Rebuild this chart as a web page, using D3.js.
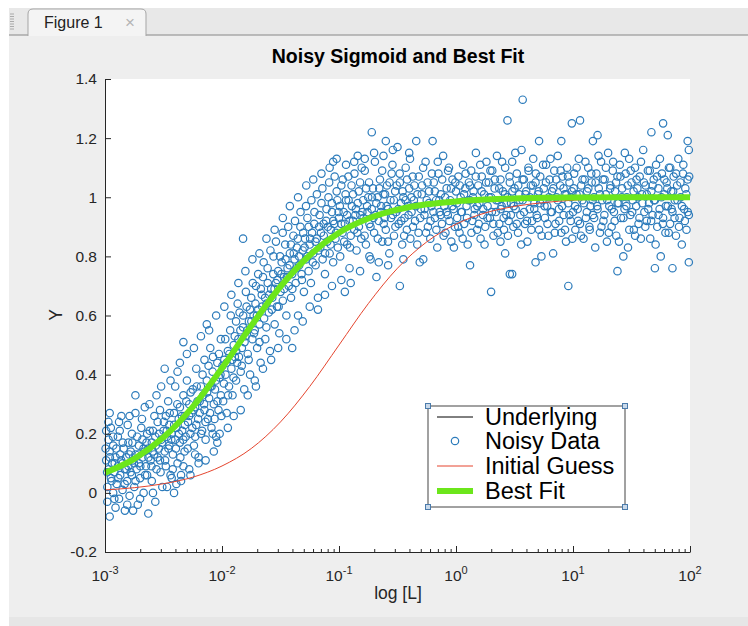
<!DOCTYPE html>
<html><head><meta charset="utf-8">
<script src="https://cdn.jsdelivr.net/npm/d3@7"></script>
<style>
html,body{margin:0;padding:0;background:#fff;}
svg{display:block;font-family:Helvetica,"Liberation Sans",Arial,sans-serif;}
</style></head><body>
<script>
// ---- data ----
const xTickValues = [1e-3, 1e-2, 1e-1, 1e0, 1e1, 1e2];
const xTickExponents = ["-3", "-2", "-1", "0", "1", "2"];
const yTickValues = [-0.2, 0, 0.2, 0.4, 0.6, 0.8, 1, 1.2, 1.4];
const yTickLabels = ["-0.2", "0", "0.2", "0.4", "0.6", "0.8", "1", "1.2", "1.4"];
const legendLabels = ["Underlying", "Noisy Data", "Initial Guess", "Best Fit"];

// curves: log10(L) and Y
const curveLogL = [-3, -2.75, -2.5, -2.25, -2, -1.75, -1.5, -1.25, -1, -0.75, -0.5, -0.25, 0, 0.25, 0.5, 0.75, 1, 1.5, 2];
const underlyingY = [0.068, 0.115, 0.188, 0.291, 0.422, 0.565, 0.698, 0.804, 0.880, 0.928, 0.958, 0.976, 0.986, 0.992, 0.996, 0.998, 0.999, 1.0, 1.0];
const initialGuessY = [0.010, 0.0175, 0.031, 0.053, 0.091, 0.150, 0.240, 0.360, 0.500, 0.640, 0.760, 0.849, 0.909, 0.947, 0.969, 0.982, 0.990, 0.997, 0.999];
const bestFitY = [0.068, 0.115, 0.188, 0.291, 0.422, 0.565, 0.698, 0.804, 0.880, 0.928, 0.958, 0.976, 0.986, 0.992, 0.996, 0.998, 0.999, 1.0, 1.0];

// noisy data: [log10(L), Y]
const noisyDataA = [
[-2.99,0.21],[-2.99,0.11],[-2.98,0.02],[-2.98,-0.03],[-2.97,0.18],[-2.97,0.08],[-2.96,0.14],[-2.96,-0.08],[-2.95,0.05],[-2.95,0.22],
[-2.94,0.10],[-2.93,0.00],[-2.93,0.16],[-2.92,0.07],[-2.91,-0.05],[-2.91,0.12],[-2.90,0.03],[-2.89,0.19],[-2.89,0.09],[-2.88,-0.02],
[-2.87,0.13],[-2.87,0.06],[-2.86,0.26],[-2.85,0.01],[-2.85,0.10],[-2.84,0.15],[-2.83,-0.06],[-2.83,0.08],[-2.82,0.12],[-2.81,0.04],
[-2.80,0.17],[-2.80,0.09],[-2.79,-0.01],[-2.78,0.14],[-2.77,0.20],[-2.77,0.06],[-2.76,0.11],[-2.76,-0.06],[-2.75,0.02],[-2.74,0.27],
[-2.74,0.13],[-2.74,0.33],[-2.73,0.08],[-2.72,-0.04],[-2.71,0.16],[-2.71,0.10],[-2.70,0.05],[-2.69,0.22],[-2.68,0.12],[-2.68,0.18],
[-2.67,0.00],[-2.66,0.14],[-2.65,0.09],[-2.64,0.20],[-2.64,0.06],[-2.63,0.15],[-2.63,-0.07],[-2.62,0.30],[-2.61,0.11],[-2.60,0.17],
[-2.60,0.04],[-2.59,0.21],[-2.58,0.13],[-2.57,-0.03],[-2.57,0.19],[-2.56,0.08],[-2.55,0.24],[-2.54,0.15],[-2.53,0.11],[-2.53,0.28],
[-2.52,0.18],[-2.51,0.02],[-2.50,0.21],[-2.49,0.14],[-2.49,0.42],[-2.48,0.26],[-2.48,0.09],[-2.47,0.19],[-2.46,0.31],[-2.45,0.16],
[-2.45,0.23],[-2.44,0.06],[-2.43,0.20],[-2.43,0.05],[-2.42,0.13],[-2.41,0.27],[-2.40,0.36],[-2.40,0.18],[-2.39,0.22],[-2.39,0.03],
[-2.38,0.10],[-2.37,0.25],[-2.36,0.29],[-2.36,0.17],[-2.36,0.44],[-2.35,0.04],[-2.34,0.21],[-2.33,0.33],[-2.33,0.51],[-2.33,0.09],
[-2.32,0.26],[-2.32,0.14],[-2.31,0.19],[-2.30,0.38],[-2.29,0.24],[-2.28,0.30],[-2.28,0.08],[-2.27,0.20],[-2.26,0.27],[-2.25,0.35],
[-2.24,0.16],[-2.23,0.29],[-2.23,0.13],[-2.22,0.42],[-2.22,0.23],[-2.21,0.31],[-2.20,0.12],[-2.19,0.27],[-2.18,0.36],[-2.17,0.21],
[-2.16,0.33],[-2.15,0.45],[-2.15,0.28],[-2.14,0.18],[-2.13,0.38],[-2.13,0.57],[-2.12,0.25],[-2.11,0.32],[-2.10,0.49],[-2.10,0.36],
[-2.09,0.22],[-2.08,0.41],[-2.08,0.20],[-2.07,0.30],[-2.06,0.35],[-2.05,0.19],[-2.04,0.44],[-2.04,0.17],[-2.03,0.28],[-2.02,0.39],
[-2.01,0.52],[-2.01,0.33],
[-1.99,0.31],[-1.98,0.45],[-1.97,0.40],[-1.96,0.27],[-1.95,0.48],[-1.94,0.36],[-1.93,0.55],[-1.92,0.42],[-1.91,0.33],[-1.90,0.50],
[-1.89,0.46],[-1.88,0.58],[-1.88,0.38],[-1.87,0.44],[-1.86,0.52],[-1.85,0.61],[-1.84,0.41],[-1.83,0.49],[-1.82,0.86],[-1.82,0.56],
[-1.81,0.35],[-1.80,0.53],[-1.79,0.63],[-1.78,0.47],[-1.77,0.58],[-1.76,0.40],[-1.75,0.66],[-1.74,0.52],[-1.73,0.60],[-1.72,0.38],
[-1.72,0.55],[-1.71,0.70],[-1.70,0.49],[-1.69,0.62],[-1.68,0.57],[-1.67,0.44],[-1.66,0.67],[-1.65,0.73],[-1.64,0.59],[-1.63,0.52],
[-1.62,0.64],[-1.61,0.76],[-1.60,0.61],[-1.59,0.48],[-1.58,0.69],[-1.57,0.66],[-1.56,0.80],[-1.55,0.57],[-1.54,0.71],[-1.53,0.63],
[-1.52,0.75],[-1.51,0.54],[-1.50,0.68],[-1.49,0.78],[-1.48,0.65],[-1.47,0.73],[-1.46,0.84],[-1.45,0.60],[-1.44,0.76],[-1.43,0.70],
[-1.42,0.81],[-1.41,0.66],[-1.40,0.49],[-1.40,0.74],[-1.39,0.87],[-1.38,0.79],[-1.37,0.71],[-1.36,0.83],[-1.35,0.60],[-1.34,0.77],
[-1.33,0.90],[-1.32,0.74],[-1.31,0.82],[-1.30,0.68],[-1.29,0.86],[-1.28,0.79],[-1.27,0.93],[-1.26,0.75],[-1.25,0.84],[-1.24,0.71],
[-1.23,0.88],[-1.22,0.81],[-1.21,0.95],[-1.20,0.77],[-1.19,0.86],[-1.18,0.62],[-1.17,0.90],[-1.16,0.83],[-1.15,0.98],[-1.14,0.79],
[-1.13,0.87],[-1.12,0.74],[-1.11,0.92],[-1.10,0.85],[-1.09,1.00],[-1.08,0.81],[-1.07,0.89],[-1.06,0.95],[-1.05,1.12],[-1.05,0.78],
[-1.04,0.91],[-1.03,0.86],[-1.02,1.02],[-1.01,0.83],[-1.00,0.93],
[-0.99,0.80],[-0.98,1.04],[-0.97,0.88],[-0.96,0.95],[-0.95,0.68],[-0.95,0.91],[-0.94,0.99],[-0.93,0.84],[-0.92,1.07],[-0.91,0.92],
[-0.90,0.71],[-0.90,0.87],[-0.89,0.97],[-0.88,1.01],[-0.87,0.89],[-0.86,0.94],[-0.85,0.82],[-0.84,1.14],[-0.84,0.98],[-0.83,0.90],
[-0.82,1.05],[-0.81,0.86],[-0.80,0.95],[-0.79,0.93],[-0.78,1.09],[-0.77,0.84],[-0.76,0.97],[-0.75,1.00],[-0.74,0.91],[-0.73,0.79],
[-0.72,1.22],[-0.72,0.96],[-0.71,1.03],[-0.70,0.88],[-0.69,0.94],[-0.68,0.73],[-0.67,1.00],[-0.66,0.92],[-0.65,1.06],[-0.64,0.97],
[-0.63,0.85],[-0.62,1.01],[-0.61,0.93],[-0.60,1.19],[-0.60,0.89],[-0.59,1.04],[-0.58,0.96],[-0.57,0.81],[-0.56,0.99],[-0.55,1.08],
[-0.54,0.94],[-0.53,0.87],[-0.52,1.02],[-0.51,0.95],[-0.50,1.17],[-0.49,0.91],[-0.48,0.70],[-0.48,1.05],[-0.47,0.98],[-0.46,0.84],
[-0.45,1.00],[-0.44,0.93],[-0.43,1.10],[-0.42,0.89],[-0.41,0.97],[-0.40,1.03],[-0.39,0.86],[-0.38,0.95],[-0.37,1.07],[-0.36,0.99],
[-0.35,0.92],[-0.34,1.19],[-0.33,1.01],[-0.32,0.88],[-0.31,0.78],[-0.30,0.96],[-0.29,1.04],[-0.28,0.79],[-0.27,0.94],[-0.26,1.12],
[-0.25,0.99],[-0.24,0.90],[-0.23,1.02],[-0.22,0.86],[-0.21,0.97],[-0.20,1.19],[-0.19,1.05],[-0.18,0.93],[-0.17,0.99],[-0.16,0.83],
[-0.15,1.08],[-0.14,0.95],[-0.13,1.01],[-0.12,0.91],[-0.11,1.14],[-0.10,0.97],[-0.09,0.88],[-0.08,1.03],[-0.07,0.94],[-0.06,1.10],
[-0.05,0.99],[-0.04,0.85],[-0.03,1.06],[-0.02,0.96],[-0.01,0.90],[0.00,1.02],
[0.01,0.93],[0.02,1.07],[0.03,0.88],[0.04,1.00],[0.05,0.95],[0.06,1.11],[0.07,0.91],[0.08,1.03],[0.09,0.97],[0.10,0.84],
[0.11,1.05],[0.12,0.77],[0.12,0.99],[0.13,1.09],[0.14,0.92],[0.15,1.02],[0.16,0.96],[0.17,1.15],[0.18,0.89],[0.19,1.04],
[0.20,0.98],[0.21,0.86],[0.22,1.07],[0.23,0.94],[0.24,1.01],[0.25,0.90],[0.26,1.12],[0.27,0.97],[0.28,1.05],[0.29,0.93],
[0.30,0.68],[0.30,1.00],[0.31,1.09],[0.32,0.87],[0.33,1.03],[0.34,0.95],[0.35,1.14],[0.36,0.99],[0.37,0.91],[0.38,0.85],
[0.38,1.06],[0.39,0.97],[0.40,1.02],[0.41,0.89],[0.42,0.81],[0.42,1.10],[0.43,0.94],[0.44,1.26],[0.44,1.00],[0.45,0.92],
[0.46,0.74],[0.46,1.05],[0.47,0.98],[0.48,0.74],[0.48,1.12],[0.49,0.90],[0.50,1.03],[0.51,0.96],[0.52,1.08],[0.53,0.88],
[0.54,1.01],[0.55,0.94],[0.56,1.16],[0.57,1.33],[0.57,0.99],[0.58,1.06],[0.59,0.91],[0.60,1.02],[0.61,0.85],[0.62,1.09],
[0.63,0.96],[0.64,1.04],[0.65,0.92],[0.66,1.13],[0.67,0.98],[0.68,0.78],[0.68,1.05],[0.69,0.94],[0.70,1.01],[0.71,1.19],
[0.71,0.89],[0.72,1.07],[0.73,0.80],[0.74,0.99],[0.75,1.03],[0.76,0.93],[0.77,1.11],[0.78,0.97],[0.79,0.87],[0.80,1.06],
[0.81,0.95],[0.82,1.02],[0.83,0.81],[0.84,1.09],[0.85,0.91],[0.86,1.00],[0.87,1.14],[0.88,0.96],[0.89,1.04],[0.90,1.19],
[0.90,0.88],[0.91,1.07],[0.92,0.94],[0.93,1.01],[0.94,0.85],[0.95,1.10],[0.96,0.70],[0.96,0.98],[0.97,1.05],[0.98,0.92],
[0.99,1.25],[0.99,1.02],
[1.00,0.95],[1.01,1.08],[1.02,0.89],[1.03,1.01],[1.04,0.96],[1.05,1.13],[1.06,1.26],[1.06,0.91],[1.07,1.04],[1.08,0.99],
[1.09,0.86],[1.10,1.06],[1.11,0.93],[1.12,1.02],[1.13,1.10],[1.14,0.90],[1.15,0.97],[1.16,1.05],[1.17,1.19],[1.17,0.94],
[1.18,1.00],[1.19,0.83],[1.20,1.08],[1.21,1.21],[1.21,0.96],[1.22,1.03],[1.23,0.88],[1.24,1.12],[1.25,0.99],[1.26,0.92],
[1.27,1.06],[1.28,1.01],[1.29,0.85],[1.30,1.15],[1.31,0.97],[1.32,1.04],[1.33,0.90],[1.34,1.09],[1.35,0.95],[1.36,1.02],
[1.37,0.87],[1.38,0.75],[1.38,1.07],[1.39,0.98],[1.40,1.11],[1.41,0.93],[1.42,1.03],[1.43,0.80],[1.44,0.96],[1.45,1.08],
[1.46,1.00],[1.47,0.83],[1.48,1.13],[1.49,0.94],[1.50,1.05],[1.51,0.99],[1.52,0.89],[1.53,1.10],[1.54,0.97],[1.55,1.03],
[1.56,0.91],[1.57,1.07],[1.58,0.86],[1.59,1.01],[1.60,1.16],[1.61,0.95],[1.62,1.04],[1.63,0.92],[1.64,1.09],[1.65,0.98],
[1.66,0.86],[1.67,1.22],[1.67,1.02],[1.68,0.94],[1.69,1.06],[1.70,0.76],[1.70,0.99],[1.71,1.11],[1.72,0.90],[1.73,1.03],
[1.74,0.96],[1.75,0.80],[1.76,1.08],[1.77,1.25],[1.77,0.93],[1.78,1.01],[1.79,0.88],[1.80,1.05],[1.81,1.21],[1.81,0.97],
[1.82,1.10],[1.83,0.91],[1.84,1.02],[1.85,0.76],[1.85,0.95],[1.86,1.07],[1.87,0.99],[1.88,0.87],[1.89,1.04],[1.90,1.13],
[1.91,0.93],[1.92,1.00],[1.93,0.84],[1.94,1.08],[1.95,0.96],[1.96,1.03],[1.97,0.89],[1.98,1.19],[1.98,1.06],[1.99,0.78],
[1.99,1.16],[1.99,0.94]
];
const noisyDataB = [
[-2.995,0.15],[-2.982,0.07],[-2.971,0.24],[-2.958,0.12],[-2.944,0.04],[-2.931,0.19],[-2.917,0.10],[-2.903,0.15],[-2.886,0.05],[-2.874,0.21],
[-2.861,0.11],[-2.848,0.17],[-2.832,0.03],[-2.817,0.08],[-2.806,0.23],[-2.793,0.13],[-2.781,0.07],[-2.766,0.17],[-2.752,0.10],[-2.739,0.04],
[-2.725,0.19],[-2.713,0.13],[-2.698,0.09],[-2.684,0.25],[-2.671,0.15],[-2.657,0.06],[-2.645,0.17],[-2.629,0.12],[-2.618,0.21],[-2.603,0.09],
[-2.592,0.14],[-2.578,0.26],[-2.566,0.16],[-2.551,0.12],[-2.538,0.20],[-2.525,0.07],[-2.512,0.17],[-2.497,0.24],[-2.486,0.11],[-2.472,0.21],
[-2.458,0.15],[-2.447,0.27],[-2.433,0.18],[-2.421,0.08],[-2.409,0.23],[-2.394,0.15],[-2.382,0.30],[-2.369,0.20],[-2.356,0.12],[-2.343,0.26],
[-2.331,0.18],[-2.318,0.23],[-2.305,0.31],[-2.293,0.15],[-2.281,0.26],[-2.268,0.34],[-2.254,0.22],[-2.242,0.28],[-2.229,0.19],[-2.216,0.36],
[-2.204,0.25],[-2.191,0.31],[-2.179,0.20],[-2.166,0.40],[-2.153,0.30],[-2.141,0.24],[-2.127,0.34],[-2.115,0.43],[-2.102,0.27],[-2.089,0.36],
[-2.077,0.46],[-2.064,0.25],[-2.052,0.38],[-2.039,0.31],[-2.026,0.47],[-2.013,0.40],[-2.005,0.26],
[-1.996,0.43],[-1.984,0.37],[-1.972,0.52],[-1.961,0.44],[-1.948,0.33],[-1.937,0.47],[-1.925,0.60],[-1.913,0.45],[-1.902,0.39],[-1.891,0.53],
[-1.878,0.48],[-1.866,0.64],[-1.855,0.46],[-1.843,0.55],[-1.831,0.43],[-1.819,0.60],[-1.807,0.51],[-1.796,0.68],[-1.784,0.55],[-1.772,0.45],
[-1.761,0.62],[-1.749,0.58],[-1.737,0.71],[-1.726,0.54],[-1.714,0.64],[-1.702,0.60],[-1.691,0.74],[-1.679,0.51],[-1.668,0.69],[-1.656,0.63],
[-1.644,0.78],[-1.632,0.66],[-1.621,0.56],[-1.609,0.71],[-1.597,0.67],[-1.586,0.82],[-1.574,0.62],[-1.562,0.74],[-1.551,0.69],[-1.539,0.85],
[-1.527,0.72],[-1.516,0.63],[-1.504,0.80],[-1.492,0.74],[-1.481,0.88],[-1.469,0.69],[-1.457,0.79],[-1.446,0.73],[-1.434,0.90],[-1.422,0.77],
[-1.411,0.84],[-1.399,0.69],[-1.387,0.81],[-1.376,0.92],[-1.364,0.76],[-1.352,0.86],[-1.341,0.80],[-1.329,0.95],[-1.317,0.72],[-1.306,0.88],
[-1.294,0.83],[-1.282,0.97],[-1.271,0.80],[-1.259,0.90],[-1.247,0.86],[-1.236,0.99],[-1.224,0.78],[-1.212,0.91],[-1.201,0.85],[-1.189,1.01],
[-1.177,0.82],[-1.166,0.94],[-1.154,0.88],[-1.142,1.03],[-1.131,0.91],[-1.119,0.81],[-1.107,0.96],[-1.096,0.90],[-1.084,1.05],[-1.072,0.84],
[-1.061,0.98],[-1.049,0.92],[-1.037,1.07],[-1.026,0.88],[-1.014,0.99],[-1.004,0.95],
[-0.993,0.97],[-0.981,0.91],[-0.968,1.06],[-0.956,0.85],[-0.944,1.01],[-0.931,0.94],[-0.918,0.99],[-0.906,0.83],[-0.893,1.04],[-0.881,0.92],
[-0.868,1.08],[-0.856,0.96],[-0.843,0.88],[-0.831,1.02],[-0.818,0.94],[-0.806,1.10],[-0.793,0.99],[-0.781,0.87],[-0.768,1.03],[-0.756,0.95],
[-0.743,1.05],[-0.731,0.90],[-0.718,1.00],[-0.706,0.93],[-0.693,1.12],[-0.681,0.98],[-0.668,0.86],[-0.656,1.03],[-0.643,0.95],[-0.631,1.09],
[-0.618,0.91],[-0.606,1.01],[-0.593,0.97],[-0.581,0.85],[-0.568,1.05],[-0.556,0.93],[-0.543,1.11],[-0.531,0.99],[-0.518,0.90],[-0.506,1.04],
[-0.493,0.96],[-0.481,1.08],[-0.468,0.92],[-0.456,1.02],[-0.443,0.87],[-0.431,0.99],[-0.418,1.06],[-0.406,0.94],[-0.393,1.13],[-0.381,1.00],
[-0.368,0.90],[-0.356,1.04],[-0.343,0.97],[-0.331,0.84],[-0.318,1.07],[-0.306,0.93],[-0.293,1.01],[-0.281,1.10],[-0.268,0.96],[-0.256,0.88],
[-0.243,1.05],[-0.231,0.98],[-0.218,0.92],[-0.206,1.08],[-0.193,0.95],[-0.181,1.02],[-0.168,0.89],[-0.156,1.12],[-0.143,0.99],[-0.131,0.94],
[-0.118,1.06],[-0.106,0.87],[-0.093,1.00],[-0.081,0.95],[-0.068,1.09],[-0.056,0.92],[-0.043,1.03],[-0.031,0.97],[-0.018,0.83],[-0.006,1.05],
[0.007,0.98],[0.019,0.90],[0.032,1.04],[0.044,0.95],[0.057,0.86],[0.069,1.01],[0.082,1.08],[0.094,0.93],[0.107,0.99],[0.119,1.04],
[0.132,0.88],[0.144,1.00],[0.157,0.94],[0.169,1.07],[0.182,0.97],[0.194,0.91],[0.207,1.11],[0.219,1.02],[0.232,0.96],[0.244,0.84],
[0.257,1.05],[0.269,0.93],[0.282,1.00],[0.294,1.09],[0.307,0.95],[0.319,0.91],[0.332,1.06],[0.344,0.99],[0.357,0.88],[0.369,1.03],
[0.382,0.96],[0.394,1.12],[0.407,0.93],[0.419,1.01],[0.432,0.98],[0.444,0.87],[0.457,1.07],[0.469,0.94],[0.482,1.02],[0.494,0.97],
[0.507,1.15],[0.519,0.91],[0.532,1.04],[0.544,0.99],[0.557,0.84],[0.569,1.06],[0.582,0.95],[0.594,1.01],[0.607,0.92],[0.619,1.10],
[0.632,1.00],[0.644,0.89],[0.657,1.04],[0.669,0.96],[0.682,1.08],[0.694,0.93],[0.707,1.02],[0.719,0.98],[0.732,0.87],[0.744,1.11],
[0.757,0.97],[0.769,1.05],[0.782,0.91],[0.794,1.00],[0.807,1.13],[0.819,0.95],[0.832,1.03],[0.844,0.88],[0.857,1.06],[0.869,0.99],
[0.882,0.92],[0.894,1.09],[0.907,0.97],[0.919,1.03],[0.932,0.89],[0.944,1.01],[0.957,1.07],[0.969,0.94],[0.982,1.00],[0.994,0.86],
[1.006,1.03],[1.018,0.97],[1.031,1.10],[1.043,0.92],[1.056,1.01],[1.068,0.87],[1.081,1.06],[1.093,0.98],[1.106,1.12],[1.118,0.95],
[1.131,1.03],[1.143,0.89],[1.156,1.08],[1.168,0.99],[1.181,0.93],[1.193,1.05],[1.206,0.97],[1.218,1.14],[1.231,1.01],[1.243,0.90],
[1.256,1.06],[1.268,0.94],[1.281,1.10],[1.293,0.99],[1.306,0.88],[1.318,1.03],[1.331,0.96],[1.343,1.12],[1.356,0.92],[1.368,1.05],
[1.381,0.98],[1.393,0.85],[1.406,1.07],[1.418,1.00],[1.431,0.93],[1.443,1.15],[1.456,0.97],[1.468,1.04],[1.481,0.89],[1.493,1.09],
[1.506,0.95],[1.518,1.02],[1.531,0.87],[1.543,1.06],[1.556,1.00],[1.568,0.93],[1.581,1.12],[1.593,0.98],[1.606,1.05],[1.618,0.90],
[1.631,1.01],[1.643,0.96],[1.656,1.09],[1.668,0.92],[1.681,1.04],[1.693,0.99],[1.706,0.84],[1.718,1.07],[1.731,0.94],[1.743,1.13],
[1.756,1.00],[1.768,0.91],[1.781,1.06],[1.793,0.97],[1.806,1.03],[1.818,0.88],[1.831,1.10],[1.843,0.96],[1.856,1.02],[1.868,0.93],
[1.881,1.08],[1.893,0.99],[1.906,0.90],[1.918,1.05],[1.931,0.97],[1.943,1.11],[1.956,0.92],[1.968,1.01],[1.981,0.95],[1.993,1.07]
];
const noisyDataC = [
[-2.96,0.27],[-2.92,-0.02],[-2.88,0.24],[-2.81,-0.04],[-2.79,0.26],[-2.70,-0.02],[-2.66,0.29],[-2.59,0.00],[-2.56,0.33],[-2.52,0.36],
[-2.47,0.02],[-2.44,0.38],[-2.41,0.00],[-2.38,0.41],[-2.35,0.06],[-2.30,0.47],[-2.27,0.06],[-2.24,0.49],[-2.20,0.10],[-2.18,0.53],
[-2.14,0.11],[-2.11,0.55],[-2.07,0.14],[-2.05,0.60],[-2.02,0.20],[-1.98,0.63],[-1.95,0.22],[-1.92,0.67],[-1.90,0.26],[-1.86,0.71],
[-1.84,0.28],[-1.80,0.75],[-1.78,0.33],[-1.74,0.79],[-1.71,0.36],[-1.68,0.81],[-1.65,0.42],[-1.62,0.86],[-1.58,0.45],[-1.55,0.89],
[-1.52,0.49],[-1.48,0.93],[-1.45,0.52],[-1.42,0.97],[-1.38,0.55],[-1.35,1.00],[-1.31,0.58],[-1.28,1.04],[-1.25,0.63],[-1.22,1.06],
[-1.18,0.66],[-1.15,1.08],[-1.12,0.67],[-1.08,1.10],[-1.06,0.70],[-1.02,1.13],[-0.98,0.72],[-0.94,1.11],[-0.91,0.76],[-0.87,1.12],
[-0.82,0.75],[-0.78,1.13],[-0.74,0.80],[-0.70,1.15],[-0.66,0.78],[-0.62,1.14],[-0.58,0.77],[-0.54,1.16],[-0.45,0.79],[-0.40,1.15]
];
const noisyData = noisyDataA.concat(noisyDataB, noisyDataC);

// ---- drawing ----
const W = 748, H = 626;
const FONT = "Helvetica,'Liberation Sans',Arial,sans-serif";
const svg = d3.select("body").append("svg").attr("width", W).attr("height", H);

// window chrome
svg.append("rect").attr("x",0).attr("y",0).attr("width",W).attr("height",H).attr("fill","#ffffff");
svg.append("rect").attr("x",9).attr("y",8).attr("width",W-9).attr("height",27).attr("fill","#e8e8e8");
svg.append("rect").attr("x",9).attr("y",35).attr("width",W-9).attr("height",582).attr("fill","#eeeeee");
svg.append("rect").attr("x",9).attr("y",617).attr("width",W-9).attr("height",9).attr("fill","#e6e6e6");
svg.append("line").attr("x1",9).attr("x2",W).attr("y1",35).attr("y2",35).attr("stroke","#a9a9a9").attr("stroke-width",1.5);
for (let i = 0; i < 7; i++) {
  svg.append("line").attr("x1",10).attr("x2",14).attr("y1",14+i*2.5).attr("y2",14+i*2.5).attr("stroke","#9a9a9a").attr("stroke-width",0.8);
}
svg.append("path").attr("d","M28,36 L28,14 Q28,9 33,9 L141,9 Q146,9 146,14 L146,36")
  .attr("fill","#f4f4f4").attr("stroke","#a5a5a5").attr("stroke-width",1);
svg.append("text").attr("x",44).attr("y",28).attr("font-size",16).attr("fill","#222").text("Figure 1");
svg.append("text").attr("x",130).attr("y",28).attr("font-size",17).attr("text-anchor","middle").attr("fill","#b5b5b5").text("×");

// plot area
const x = d3.scaleLog().domain([1e-3, 1e2]).range([105, 690]);
const y = d3.scaleLinear().domain([-0.2, 1.4]).range([552, 79]);
const axisColor = "#262626";

svg.append("rect").attr("x",105).attr("y",79).attr("width",585).attr("height",473).attr("fill","#ffffff");
svg.append("clipPath").attr("id","clip").append("rect").attr("x",100).attr("y",74).attr("width",596).attr("height",483);
const plot = svg.append("g").attr("clip-path","url(#clip)");

const lineGen = (ys) => d3.line()
  .x((d,i) => x(Math.pow(10, curveLogL[i])))
  .y((d) => y(d))
  .curve(d3.curveMonotoneX)(ys);

plot.append("path").attr("d", lineGen(underlyingY)).attr("fill","none").attr("stroke","#000").attr("stroke-width",1);
plot.selectAll("circle.pt").data(noisyData).enter().append("circle")
  .attr("cx", d => x(Math.pow(10, d[0]))).attr("cy", d => y(d[1])).attr("r", 3.7)
  .attr("fill","none").attr("stroke","#2c7bbb").attr("stroke-width",1.2);
plot.append("path").attr("d", lineGen(initialGuessY)).attr("fill","none").attr("stroke","#e5452e").attr("stroke-width",1);
plot.append("path").attr("d", lineGen(bestFitY)).attr("fill","none").attr("stroke","#6ce61b").attr("stroke-width",6);

// axes
const xAxis = svg.append("g").attr("transform","translate(0,552)")
  .call(d3.axisBottom(x).tickValues(xTickValues).tickSizeInner(-6).tickSizeOuter(0).tickFormat(""));
const minors = [];
for (let e = -3; e < 2; e++) for (let m = 2; m <= 9; m++) minors.push(m * Math.pow(10, e));
const xMinor = svg.append("g").attr("transform","translate(0,552)")
  .call(d3.axisBottom(x).tickValues(minors).tickSizeInner(-3).tickSizeOuter(0).tickFormat(""));
xMinor.select(".domain").remove();
const yAxis = svg.append("g").attr("transform","translate(105,0)")
  .call(d3.axisLeft(y).tickValues(yTickValues).tickSizeInner(-6).tickSizeOuter(0).tickPadding(8)
    .tickFormat((d,i) => yTickLabels[i]));
[xAxis, xMinor, yAxis].forEach(g => {
  g.selectAll("path,line").attr("stroke", axisColor);
  g.selectAll("text").attr("fill", axisColor).attr("font-size", 15.5).attr("font-family", FONT);
});

// x tick labels with superscripts
const xl = svg.append("g");
xTickValues.forEach((v,i) => {
  const t = xl.append("text").attr("x", x(v)).attr("y", 581).attr("text-anchor","middle")
    .attr("font-size",15.5).attr("fill",axisColor);
  t.append("tspan").text("10");
  t.append("tspan").attr("dy",-7).attr("font-size",11).text(xTickExponents[i]);
});

// labels and title
svg.append("text").attr("x",398).attr("y",599).attr("text-anchor","middle").attr("font-size",17.5).attr("fill",axisColor).text("log [L]");
svg.append("text").attr("transform","translate(62,315) rotate(-90)").attr("text-anchor","middle").attr("font-size",17.5).attr("fill",axisColor).text("Y");
svg.append("text").attr("x",398).attr("y",63).attr("text-anchor","middle").attr("font-size",19.5).attr("font-weight","bold").attr("fill","#000").text("Noisy Sigmoid and Best Fit");

// legend
const lg = svg.append("g");
lg.append("rect").attr("x",428).attr("y",406).attr("width",197).attr("height",101).attr("fill","#fff").attr("stroke","#444").attr("stroke-width",1);
const rowY = [417, 441, 466, 491];
legendLabels.forEach((lab,i) => {
  const yy = rowY[i];
  if (i === 0) lg.append("line").attr("x1",437).attr("x2",473).attr("y1",yy).attr("y2",yy).attr("stroke","#000").attr("stroke-width",1);
  if (i === 1) lg.append("circle").attr("cx",455).attr("cy",yy).attr("r",3.7).attr("fill","none").attr("stroke","#2c7bbb").attr("stroke-width",1.2);
  if (i === 2) lg.append("line").attr("x1",437).attr("x2",473).attr("y1",yy).attr("y2",yy).attr("stroke","#e5452e").attr("stroke-width",1);
  if (i === 3) lg.append("line").attr("x1",437).attr("x2",473).attr("y1",yy).attr("y2",yy).attr("stroke","#6ce61b").attr("stroke-width",6);
  lg.append("text").attr("x",485).attr("y",yy+8).attr("font-size",23.5).attr("fill","#000").text(lab);
});
[[428,406],[625,406],[428,507],[625,507]].forEach(c => {
  lg.append("rect").attr("x",c[0]-2.5).attr("y",c[1]-2.5).attr("width",5).attr("height",5)
    .attr("fill","#c9d9ea").attr("stroke","#4b7bab").attr("stroke-width",1);
});
</script>
</body></html>
